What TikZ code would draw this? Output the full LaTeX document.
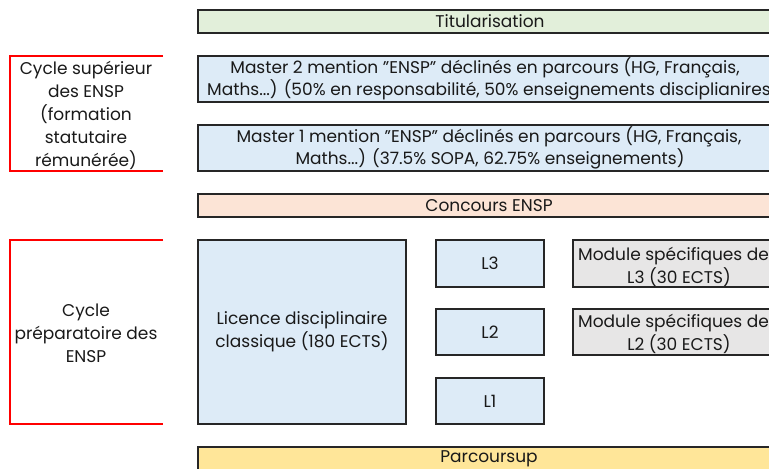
\documentclass[tikz,border=0pt]{standalone}
\usepackage{fontspec}
\setmainfont{Poppins}
\definecolor{cgreen}{HTML}{E2EFDA}
\definecolor{cblue}{HTML}{DDEBF7}
\definecolor{cpeach}{HTML}{FCE4D6}
\definecolor{cyellow}{HTML}{FFE699}
\definecolor{cgrey}{HTML}{E7E6E6}
\definecolor{cred}{HTML}{FF0000}
\definecolor{cedge}{HTML}{262626}
\tikzset{
  box/.style={draw=cedge, line width=1.2bp},
  txt/.style={inner sep=0pt, font=\fontsize{17bp}{23bp}\selectfont, text=black!90},
  side/.style={draw=cred, line width=1.2bp},
}
\begin{document}
\begin{tikzpicture}[x=1bp,y=-1bp]
\useasboundingbox (0,0) rectangle (769,469);
\clip (0,0) rectangle (769,469);
% left red brackets
\draw[side] (163,56) -- (10,56) -- (10,171) -- (163,171);
\draw[side] (163,240) -- (10,240) -- (10,424) -- (163,424);
\node[txt, align=center] (cs) at (86,115) {Cycle supérieur\\des ENSP\\(formation\\statutaire\\rémunérée)};
\node[txt, align=center] (cp) at (86,333) {Cycle\\préparatoire des\\ENSP};
% bands
\path[box, fill=cgreen] (198,10) rectangle (782,33);
\node[txt] (tit) at (490,21.5) {Titularisation};
\path[box, fill=cblue] (198,56) rectangle (782,102);
\node[txt] (m2a) at (485,68) {Master 2 mention "ENSP" déclinés en parcours (HG, Français,};
\node[txt, anchor=west] (m2b) at (207,90) {Maths...) (50\% en responsabilité, 50\% enseignements disciplianires};
\path[box, fill=cblue] (198,125) rectangle (782,171);
\node[txt] (m1a) at (489,137) {Master 1 mention "ENSP" déclinés en parcours (HG, Français,};
\node[txt] (m1b) at (490,159) {Maths...) (37.5\% SOPA, 62.75\% enseignements)};
\path[box, fill=cpeach] (198,194) rectangle (782,217);
\node[txt] (conc) at (489,205.5) {Concours ENSP};
\path[box, fill=cblue] (198,240) rectangle (406,424);
\node[txt, align=center] (lic) at (302,332) {Licence disciplinaire\\classique (180 ECTS)};
\path[box, fill=cblue] (436,240) rectangle (544,287);
\node[txt] (l3) at (490,263.5) {L3};
\path[box, fill=cblue] (436,309) rectangle (544,355);
\node[txt] (l2) at (490,332) {L2};
\path[box, fill=cblue] (436,378) rectangle (544,424);
\node[txt] (l1) at (490,401) {L1};
\path[box, fill=cgrey] (573,240) rectangle (785,287);
\node[txt, anchor=west] (ml3a) at (578,256) {Module spécifiques de};
\node[txt] (ml3b) at (679,277) {L3 (30 ECTS)};
\path[box, fill=cgrey] (573,309) rectangle (785,355);
\node[txt, anchor=west] (ml2a) at (578,323) {Module spécifiques de};
\node[txt] (ml2b) at (679,344) {L2 (30 ECTS)};
\path[box, fill=cyellow] (198,447) rectangle (782,480);
\node[txt] (ps) at (489,459) {Parcoursup};
\end{tikzpicture}
\end{document}
